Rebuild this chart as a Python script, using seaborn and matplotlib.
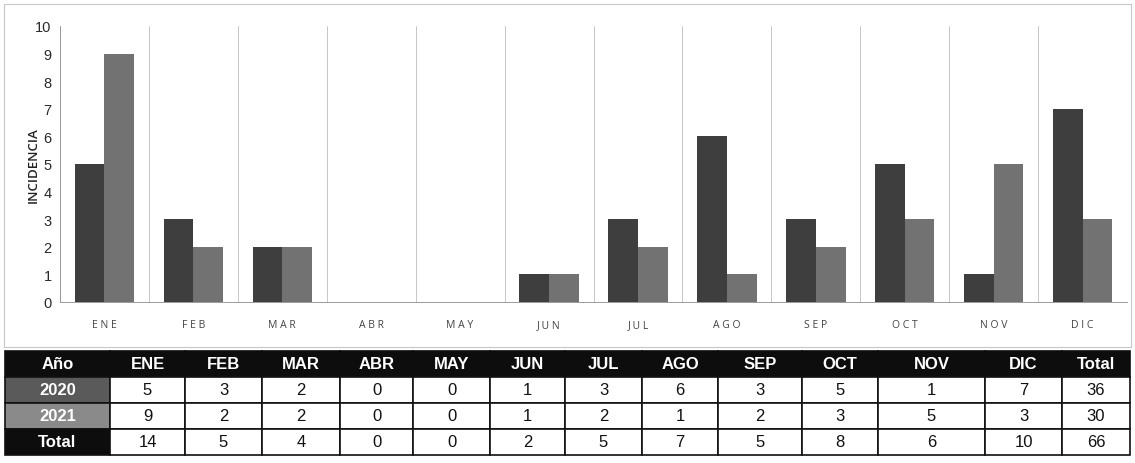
import numpy as np
import pandas as pd
import matplotlib
matplotlib.use("Agg")
import matplotlib.pyplot as plt
import seaborn as sns

# --- data ---
meses = ['ENE', 'FEB', 'MAR', 'ABR', 'MAY', 'JUN', 'JUL', 'AGO', 'SEP', 'OCT', 'NOV', 'DIC']
casos_2020 = [5, 3, 2, 0, 0, 1, 3, 6, 3, 5, 1, 7]
casos_2021 = [9, 2, 2, 0, 0, 1, 2, 1, 2, 3, 5, 3]
anios = ['2020', '2021']

df = pd.DataFrame({
    'mes': meses * 2,
    'anio': ['2020'] * 12 + ['2021'] * 12,
    'casos': casos_2020 + casos_2021,
})

# --- style ---
sns.set_style('white')
plt.rcParams['font.family'] = ['Liberation Sans Narrow', 'Liberation Sans', 'DejaVu Sans']

W, H = 1135, 464
fig = plt.figure(figsize=(W / 100, H / 100), dpi=100)

# outer frame of the chart block
frame = fig.add_axes([4 / W, 1 - 348 / H, 1127 / W, 343 / H])
frame.set_xticks([])
frame.set_yticks([])
for s in frame.spines.values():
    s.set_color('#c8c8c8')
    s.set_linewidth(0.8)
frame.patch.set_alpha(0)

ax = fig.add_axes([60 / W, 1 - 303 / H, 1067 / W, 276 / H])
sns.barplot(data=df, x='mes', y='casos', hue='anio', order=meses, hue_order=anios,
            palette=['#3e3e3e', '#727272'], width=0.67, saturation=1, gap=0,
            edgecolor='none', legend=False, ax=ax)

ax.set_ylim(0, 10)
ax.set_xlim(-0.5, 11.5)
ax.set_yticks(range(0, 11))
ax.set_xlabel('')
ax.set_ylabel('INCIDENCIA', fontsize=9.5, family=['Open Sans', 'DejaVu Sans'],
              fontweight='semibold', color='#222222', labelpad=-3)
ax.tick_params(axis='y', length=3, width=0.6, color='#999999', labelsize=10.5,
               labelcolor='#2a2a2a', pad=3)
ax.tick_params(axis='x', which='major', length=0, pad=12, labelsize=7.5,
               labelcolor='#444444')
ax.set_xticks(np.arange(-0.5, 12, 1), minor=True)
ax.tick_params(axis='x', which='minor', length=4, width=0.6, color='#bbbbbb')
ax.grid(axis='x', which='minor', color='#bdbdbd', linewidth=0.6)
ax.grid(axis='y', visible=False)
ax.set_xticklabels([' '.join(m) for m in meses], family=['Open Sans', 'DejaVu Sans'])
for side in ['top', 'right']:
    ax.spines[side].set_visible(False)
ax.spines['left'].set_color('#999999')
ax.spines['bottom'].set_color('#999999')
ax.spines['left'].set_linewidth(0.7)
ax.spines['bottom'].set_linewidth(0.7)

# --- table ---
col_edges = [5, 110, 185, 262, 340, 413, 490, 565, 642, 718, 802, 878, 985, 1062, 1130]
col_w = np.diff(col_edges) / (col_edges[-1] - col_edges[0])
tax = fig.add_axes([col_edges[0] / W, 1 - 456 / H, (col_edges[-1] - col_edges[0]) / W, 104 / H])
tax.axis('off')

total_2020 = sum(casos_2020)
total_2021 = sum(casos_2021)
totales = [a + b for a, b in zip(casos_2020, casos_2021)]
header = ['Año'] + meses + ['Total']
rows = [
    ['2020'] + [str(v) for v in casos_2020] + [str(total_2020)],
    ['2021'] + [str(v) for v in casos_2021] + [str(total_2021)],
    ['Total'] + [str(v) for v in totales] + [str(total_2020 + total_2021)],
]
tbl = tax.table(cellText=[header] + rows, colWidths=list(col_w), bbox=[0, 0, 1, 1],
                cellLoc='center')
tbl.auto_set_font_size(False)
row_head_colors = {0: '#0d0d0d', 1: '#5a5a5a', 2: '#8a8a8a', 3: '#0d0d0d'}
for (r, c), cell in tbl.get_celld().items():
    cell.set_linewidth(1.2)
    cell.set_edgecolor('#111111')
    txt = cell.get_text()
    txt.set_fontsize(12)
    if r == 0 or c == 0:
        cell.set_facecolor(row_head_colors[r] if c == 0 else '#0d0d0d')
        txt.set_color('white')
        txt.set_fontweight('bold')
        if r == 0 and c > 0:
            cell.set_edgecolor('#0d0d0d')
    else:
        cell.set_facecolor('white')
        txt.set_color('#111111')

fig.savefig('out.png', dpi=100)
